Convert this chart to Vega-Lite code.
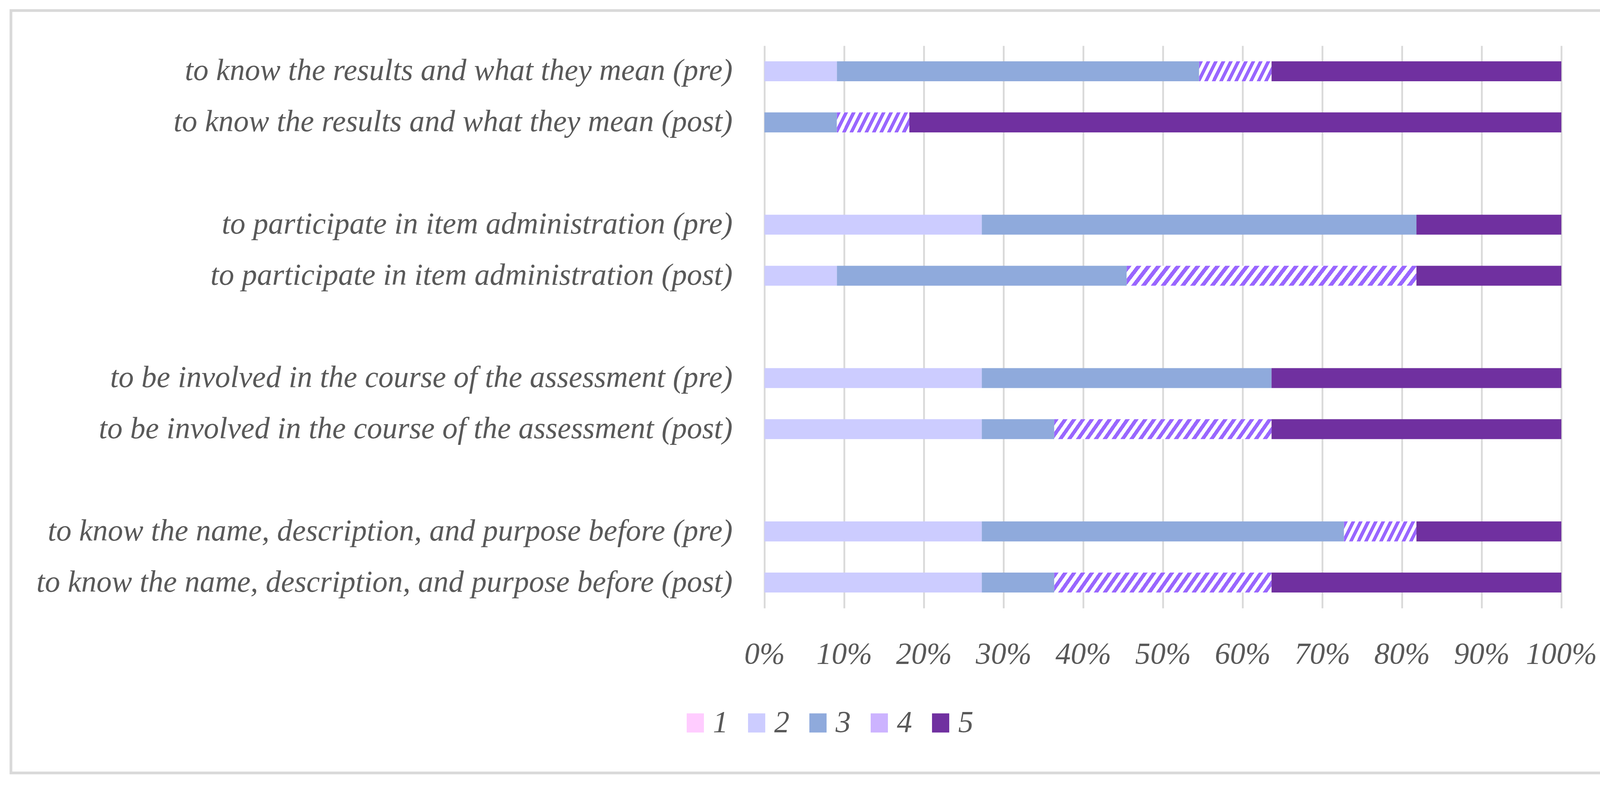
{
"$schema": "https://vega.github.io/schema/vega-lite/v6.json",
"width": 4222,
"height": 2015,
"autosize": {"type": "fit", "contains": "padding"},
"padding": {"left": 28, "top": 27, "right": 38, "bottom": 36},
"background": "white",
"config": {"view": {"stroke": "#d9d9d9", "strokeWidth": 7}, "font": "Liberation Serif"},
"data": {"values": [
{"item": "to know the results and what they mean (pre)", "level": "2", "n": 1},
{"item": "to know the results and what they mean (pre)", "level": "3", "n": 5},
{"item": "to know the results and what they mean (pre)", "level": "4", "n": 1},
{"item": "to know the results and what they mean (pre)", "level": "5", "n": 4},
{"item": "to know the results and what they mean (post)", "level": "3", "n": 1},
{"item": "to know the results and what they mean (post)", "level": "4", "n": 1},
{"item": "to know the results and what they mean (post)", "level": "5", "n": 9},
{"item": "to participate in item administration (pre)", "level": "2", "n": 3},
{"item": "to participate in item administration (pre)", "level": "3", "n": 6},
{"item": "to participate in item administration (pre)", "level": "5", "n": 2},
{"item": "to participate in item administration (post)", "level": "2", "n": 1},
{"item": "to participate in item administration (post)", "level": "3", "n": 4},
{"item": "to participate in item administration (post)", "level": "4", "n": 4},
{"item": "to participate in item administration (post)", "level": "5", "n": 2},
{"item": "to be involved in the course of the assessment (pre)", "level": "2", "n": 3},
{"item": "to be involved in the course of the assessment (pre)", "level": "3", "n": 4},
{"item": "to be involved in the course of the assessment (pre)", "level": "5", "n": 4},
{"item": "to be involved in the course of the assessment (post)", "level": "2", "n": 3},
{"item": "to be involved in the course of the assessment (post)", "level": "3", "n": 1},
{"item": "to be involved in the course of the assessment (post)", "level": "4", "n": 3},
{"item": "to be involved in the course of the assessment (post)", "level": "5", "n": 4},
{"item": "to know the name, description, and purpose before (pre)", "level": "2", "n": 3},
{"item": "to know the name, description, and purpose before (pre)", "level": "3", "n": 5},
{"item": "to know the name, description, and purpose before (pre)", "level": "4", "n": 1},
{"item": "to know the name, description, and purpose before (pre)", "level": "5", "n": 2},
{"item": "to know the name, description, and purpose before (post)", "level": "2", "n": 3},
{"item": "to know the name, description, and purpose before (post)", "level": "3", "n": 1},
{"item": "to know the name, description, and purpose before (post)", "level": "4", "n": 3},
{"item": "to know the name, description, and purpose before (post)", "level": "5", "n": 4}
]},
"mark": {"type": "bar", "strokeWidth": 0},
"encoding": {
"y": {"field": "item", "type": "nominal", "sort": null,
 "scale": {"domain": ["to know the results and what they mean (pre)", "to know the results and what they mean (post)", " ", "to participate in item administration (pre)", "to participate in item administration (post)", "  ", "to be involved in the course of the assessment (pre)", "to be involved in the course of the assessment (post)", "   ", "to know the name, description, and purpose before (pre)", "to know the name, description, and purpose before (post)"], "range": [90, 1530], "paddingInner": 0.61, "paddingOuter": 0.305},
 "axis": {"title": null, "orient": "left", "offset": -1847, "labelPadding": 0, "ticks": false, "domain": false, "grid": false, "labelFont": "Liberation Serif", "labelFontStyle": "italic", "labelFontSize": 78, "labelColor": "#595959", "labelLimit": 4000, "labelAlign": "right", "labelBaseline": "middle"}},
"x": {"field": "n", "type": "quantitative", "stack": "normalize",
 "scale": {"domain": [0, 1], "range": [1929, 3969], "nice": false, "zero": false},
 "axis": {"title": null, "orient": "top", "offset": -1671, "values": [0, 0.1, 0.2, 0.3, 0.4, 0.5, 0.6, 0.7, 0.8, 0.9, 1], "format": ".0%", "grid": true, "gridColor": "#d9d9d9", "gridWidth": 4.5, "domain": false, "ticks": false, "labelPadding": 0, "labelBaseline": "alphabetic", "labelFont": "Liberation Serif", "labelFontStyle": "italic", "labelFontSize": 78, "labelColor": "#595959", "labelFlush": false, "labelOverlap": false, "labelBound": false, "labelLimit": 500}},
"order": {"field": "level", "sort": "ascending"},
"fill": {"field": "level", "type": "nominal",
 "scale": {"domain": ["1", "2", "3", "4", "5"], "range": ["#ffccff", "#ccccff", "#8faadc", "#ccb3ff", "#7030a0"]},
 "condition": [
  {"test": "datum.level === '4' && datum.n === 1", "value": {"gradient": "linear", "x1": 0, "y1": 0, "x2": 1.1165, "y2": 0.1535, "stops": [
{"offset":0,"color":"#9966ff"},{"offset":0.0455,"color":"#9966ff"},{"offset":0.0455,"color":"#ffffff"},{"offset":0.0909,"color":"#ffffff"},
{"offset":0.0909,"color":"#9966ff"},{"offset":0.1364,"color":"#9966ff"},{"offset":0.1364,"color":"#ffffff"},{"offset":0.1818,"color":"#ffffff"},
{"offset":0.1818,"color":"#9966ff"},{"offset":0.2273,"color":"#9966ff"},{"offset":0.2273,"color":"#ffffff"},{"offset":0.2727,"color":"#ffffff"},
{"offset":0.2727,"color":"#9966ff"},{"offset":0.3182,"color":"#9966ff"},{"offset":0.3182,"color":"#ffffff"},{"offset":0.3636,"color":"#ffffff"},
{"offset":0.3636,"color":"#9966ff"},{"offset":0.4091,"color":"#9966ff"},{"offset":0.4091,"color":"#ffffff"},{"offset":0.4545,"color":"#ffffff"},
{"offset":0.4545,"color":"#9966ff"},{"offset":0.5,"color":"#9966ff"},{"offset":0.5,"color":"#ffffff"},{"offset":0.5455,"color":"#ffffff"},
{"offset":0.5455,"color":"#9966ff"},{"offset":0.5909,"color":"#9966ff"},{"offset":0.5909,"color":"#ffffff"},{"offset":0.6364,"color":"#ffffff"},
{"offset":0.6364,"color":"#9966ff"},{"offset":0.6818,"color":"#9966ff"},{"offset":0.6818,"color":"#ffffff"},{"offset":0.7273,"color":"#ffffff"},
{"offset":0.7273,"color":"#9966ff"},{"offset":0.7727,"color":"#9966ff"},{"offset":0.7727,"color":"#ffffff"},{"offset":0.8182,"color":"#ffffff"},
{"offset":0.8182,"color":"#9966ff"},{"offset":0.8636,"color":"#9966ff"},{"offset":0.8636,"color":"#ffffff"},{"offset":0.9091,"color":"#ffffff"},
{"offset":0.9091,"color":"#9966ff"},{"offset":0.9545,"color":"#9966ff"},{"offset":0.9545,"color":"#ffffff"},{"offset":1,"color":"#ffffff"}
  ]}},
  {"test": "datum.level === '4' && datum.n === 3", "value": {"gradient": "linear", "x1": 0, "y1": 0, "x2": 1.0599, "y2": 0.0681, "stops": [
{"offset":0,"color":"#9966ff"},{"offset":0.0192,"color":"#9966ff"},{"offset":0.0192,"color":"#ffffff"},{"offset":0.0385,"color":"#ffffff"},
{"offset":0.0385,"color":"#9966ff"},{"offset":0.0577,"color":"#9966ff"},{"offset":0.0577,"color":"#ffffff"},{"offset":0.0769,"color":"#ffffff"},
{"offset":0.0769,"color":"#9966ff"},{"offset":0.0962,"color":"#9966ff"},{"offset":0.0962,"color":"#ffffff"},{"offset":0.1154,"color":"#ffffff"},
{"offset":0.1154,"color":"#9966ff"},{"offset":0.1346,"color":"#9966ff"},{"offset":0.1346,"color":"#ffffff"},{"offset":0.1538,"color":"#ffffff"},
{"offset":0.1538,"color":"#9966ff"},{"offset":0.1731,"color":"#9966ff"},{"offset":0.1731,"color":"#ffffff"},{"offset":0.1923,"color":"#ffffff"},
{"offset":0.1923,"color":"#9966ff"},{"offset":0.2115,"color":"#9966ff"},{"offset":0.2115,"color":"#ffffff"},{"offset":0.2308,"color":"#ffffff"},
{"offset":0.2308,"color":"#9966ff"},{"offset":0.25,"color":"#9966ff"},{"offset":0.25,"color":"#ffffff"},{"offset":0.2692,"color":"#ffffff"},
{"offset":0.2692,"color":"#9966ff"},{"offset":0.2885,"color":"#9966ff"},{"offset":0.2885,"color":"#ffffff"},{"offset":0.3077,"color":"#ffffff"},
{"offset":0.3077,"color":"#9966ff"},{"offset":0.3269,"color":"#9966ff"},{"offset":0.3269,"color":"#ffffff"},{"offset":0.3462,"color":"#ffffff"},
{"offset":0.3462,"color":"#9966ff"},{"offset":0.3654,"color":"#9966ff"},{"offset":0.3654,"color":"#ffffff"},{"offset":0.3846,"color":"#ffffff"},
{"offset":0.3846,"color":"#9966ff"},{"offset":0.4038,"color":"#9966ff"},{"offset":0.4038,"color":"#ffffff"},{"offset":0.4231,"color":"#ffffff"},
{"offset":0.4231,"color":"#9966ff"},{"offset":0.4423,"color":"#9966ff"},{"offset":0.4423,"color":"#ffffff"},{"offset":0.4615,"color":"#ffffff"},
{"offset":0.4615,"color":"#9966ff"},{"offset":0.4808,"color":"#9966ff"},{"offset":0.4808,"color":"#ffffff"},{"offset":0.5,"color":"#ffffff"},
{"offset":0.5,"color":"#9966ff"},{"offset":0.5192,"color":"#9966ff"},{"offset":0.5192,"color":"#ffffff"},{"offset":0.5385,"color":"#ffffff"},
{"offset":0.5385,"color":"#9966ff"},{"offset":0.5577,"color":"#9966ff"},{"offset":0.5577,"color":"#ffffff"},{"offset":0.5769,"color":"#ffffff"},
{"offset":0.5769,"color":"#9966ff"},{"offset":0.5962,"color":"#9966ff"},{"offset":0.5962,"color":"#ffffff"},{"offset":0.6154,"color":"#ffffff"},
{"offset":0.6154,"color":"#9966ff"},{"offset":0.6346,"color":"#9966ff"},{"offset":0.6346,"color":"#ffffff"},{"offset":0.6538,"color":"#ffffff"},
{"offset":0.6538,"color":"#9966ff"},{"offset":0.6731,"color":"#9966ff"},{"offset":0.6731,"color":"#ffffff"},{"offset":0.6923,"color":"#ffffff"},
{"offset":0.6923,"color":"#9966ff"},{"offset":0.7115,"color":"#9966ff"},{"offset":0.7115,"color":"#ffffff"},{"offset":0.7308,"color":"#ffffff"},
{"offset":0.7308,"color":"#9966ff"},{"offset":0.75,"color":"#9966ff"},{"offset":0.75,"color":"#ffffff"},{"offset":0.7692,"color":"#ffffff"},
{"offset":0.7692,"color":"#9966ff"},{"offset":0.7885,"color":"#9966ff"},{"offset":0.7885,"color":"#ffffff"},{"offset":0.8077,"color":"#ffffff"},
{"offset":0.8077,"color":"#9966ff"},{"offset":0.8269,"color":"#9966ff"},{"offset":0.8269,"color":"#ffffff"},{"offset":0.8462,"color":"#ffffff"},
{"offset":0.8462,"color":"#9966ff"},{"offset":0.8654,"color":"#9966ff"},{"offset":0.8654,"color":"#ffffff"},{"offset":0.8846,"color":"#ffffff"},
{"offset":0.8846,"color":"#9966ff"},{"offset":0.9038,"color":"#9966ff"},{"offset":0.9038,"color":"#ffffff"},{"offset":0.9231,"color":"#ffffff"},
{"offset":0.9231,"color":"#9966ff"},{"offset":0.9423,"color":"#9966ff"},{"offset":0.9423,"color":"#ffffff"},{"offset":0.9615,"color":"#ffffff"},
{"offset":0.9615,"color":"#9966ff"},{"offset":0.9808,"color":"#9966ff"},{"offset":0.9808,"color":"#ffffff"},{"offset":1,"color":"#ffffff"}
  ]}},
  {"test": "datum.level === '4' && datum.n === 4", "value": {"gradient": "linear", "x1": 0, "y1": 0, "x2": 1.05, "y2": 0.0556, "stops": [
{"offset":0,"color":"#9966ff"},{"offset":0.0161,"color":"#9966ff"},{"offset":0.0161,"color":"#ffffff"},{"offset":0.0323,"color":"#ffffff"},
{"offset":0.0323,"color":"#9966ff"},{"offset":0.0484,"color":"#9966ff"},{"offset":0.0484,"color":"#ffffff"},{"offset":0.0645,"color":"#ffffff"},
{"offset":0.0645,"color":"#9966ff"},{"offset":0.0806,"color":"#9966ff"},{"offset":0.0806,"color":"#ffffff"},{"offset":0.0968,"color":"#ffffff"},
{"offset":0.0968,"color":"#9966ff"},{"offset":0.1129,"color":"#9966ff"},{"offset":0.1129,"color":"#ffffff"},{"offset":0.129,"color":"#ffffff"},
{"offset":0.129,"color":"#9966ff"},{"offset":0.1452,"color":"#9966ff"},{"offset":0.1452,"color":"#ffffff"},{"offset":0.1613,"color":"#ffffff"},
{"offset":0.1613,"color":"#9966ff"},{"offset":0.1774,"color":"#9966ff"},{"offset":0.1774,"color":"#ffffff"},{"offset":0.1935,"color":"#ffffff"},
{"offset":0.1935,"color":"#9966ff"},{"offset":0.2097,"color":"#9966ff"},{"offset":0.2097,"color":"#ffffff"},{"offset":0.2258,"color":"#ffffff"},
{"offset":0.2258,"color":"#9966ff"},{"offset":0.2419,"color":"#9966ff"},{"offset":0.2419,"color":"#ffffff"},{"offset":0.2581,"color":"#ffffff"},
{"offset":0.2581,"color":"#9966ff"},{"offset":0.2742,"color":"#9966ff"},{"offset":0.2742,"color":"#ffffff"},{"offset":0.2903,"color":"#ffffff"},
{"offset":0.2903,"color":"#9966ff"},{"offset":0.3065,"color":"#9966ff"},{"offset":0.3065,"color":"#ffffff"},{"offset":0.3226,"color":"#ffffff"},
{"offset":0.3226,"color":"#9966ff"},{"offset":0.3387,"color":"#9966ff"},{"offset":0.3387,"color":"#ffffff"},{"offset":0.3548,"color":"#ffffff"},
{"offset":0.3548,"color":"#9966ff"},{"offset":0.371,"color":"#9966ff"},{"offset":0.371,"color":"#ffffff"},{"offset":0.3871,"color":"#ffffff"},
{"offset":0.3871,"color":"#9966ff"},{"offset":0.4032,"color":"#9966ff"},{"offset":0.4032,"color":"#ffffff"},{"offset":0.4194,"color":"#ffffff"},
{"offset":0.4194,"color":"#9966ff"},{"offset":0.4355,"color":"#9966ff"},{"offset":0.4355,"color":"#ffffff"},{"offset":0.4516,"color":"#ffffff"},
{"offset":0.4516,"color":"#9966ff"},{"offset":0.4677,"color":"#9966ff"},{"offset":0.4677,"color":"#ffffff"},{"offset":0.4839,"color":"#ffffff"},
{"offset":0.4839,"color":"#9966ff"},{"offset":0.5,"color":"#9966ff"},{"offset":0.5,"color":"#ffffff"},{"offset":0.5161,"color":"#ffffff"},
{"offset":0.5161,"color":"#9966ff"},{"offset":0.5323,"color":"#9966ff"},{"offset":0.5323,"color":"#ffffff"},{"offset":0.5484,"color":"#ffffff"},
{"offset":0.5484,"color":"#9966ff"},{"offset":0.5645,"color":"#9966ff"},{"offset":0.5645,"color":"#ffffff"},{"offset":0.5806,"color":"#ffffff"},
{"offset":0.5806,"color":"#9966ff"},{"offset":0.5968,"color":"#9966ff"},{"offset":0.5968,"color":"#ffffff"},{"offset":0.6129,"color":"#ffffff"},
{"offset":0.6129,"color":"#9966ff"},{"offset":0.629,"color":"#9966ff"},{"offset":0.629,"color":"#ffffff"},{"offset":0.6452,"color":"#ffffff"},
{"offset":0.6452,"color":"#9966ff"},{"offset":0.6613,"color":"#9966ff"},{"offset":0.6613,"color":"#ffffff"},{"offset":0.6774,"color":"#ffffff"},
{"offset":0.6774,"color":"#9966ff"},{"offset":0.6935,"color":"#9966ff"},{"offset":0.6935,"color":"#ffffff"},{"offset":0.7097,"color":"#ffffff"},
{"offset":0.7097,"color":"#9966ff"},{"offset":0.7258,"color":"#9966ff"},{"offset":0.7258,"color":"#ffffff"},{"offset":0.7419,"color":"#ffffff"},
{"offset":0.7419,"color":"#9966ff"},{"offset":0.7581,"color":"#9966ff"},{"offset":0.7581,"color":"#ffffff"},{"offset":0.7742,"color":"#ffffff"},
{"offset":0.7742,"color":"#9966ff"},{"offset":0.7903,"color":"#9966ff"},{"offset":0.7903,"color":"#ffffff"},{"offset":0.8065,"color":"#ffffff"},
{"offset":0.8065,"color":"#9966ff"},{"offset":0.8226,"color":"#9966ff"},{"offset":0.8226,"color":"#ffffff"},{"offset":0.8387,"color":"#ffffff"},
{"offset":0.8387,"color":"#9966ff"},{"offset":0.8548,"color":"#9966ff"},{"offset":0.8548,"color":"#ffffff"},{"offset":0.871,"color":"#ffffff"},
{"offset":0.871,"color":"#9966ff"},{"offset":0.8871,"color":"#9966ff"},{"offset":0.8871,"color":"#ffffff"},{"offset":0.9032,"color":"#ffffff"},
{"offset":0.9032,"color":"#9966ff"},{"offset":0.9194,"color":"#9966ff"},{"offset":0.9194,"color":"#ffffff"},{"offset":0.9355,"color":"#ffffff"},
{"offset":0.9355,"color":"#9966ff"},{"offset":0.9516,"color":"#9966ff"},{"offset":0.9516,"color":"#ffffff"},{"offset":0.9677,"color":"#ffffff"},
{"offset":0.9677,"color":"#9966ff"},{"offset":0.9839,"color":"#9966ff"},{"offset":0.9839,"color":"#ffffff"},{"offset":1,"color":"#ffffff"}
  ]}}
 ],
 "legend": {"title": null, "orient": "none", "legendX": 1713, "legendY": 1785, "direction": "horizontal", "columns": 5, "padding": 0,
  "symbolType": "M-0.9,-1H0.9V1H-0.9Z", "symbolSize": 2401, "symbolStrokeWidth": 0, "symbolOpacity": 1,
  "labelFont": "Liberation Serif", "labelFontStyle": "italic", "labelFontSize": 78, "labelColor": "#595959", "labelOffset": 6, "columnPadding": 34}
}
}
}
